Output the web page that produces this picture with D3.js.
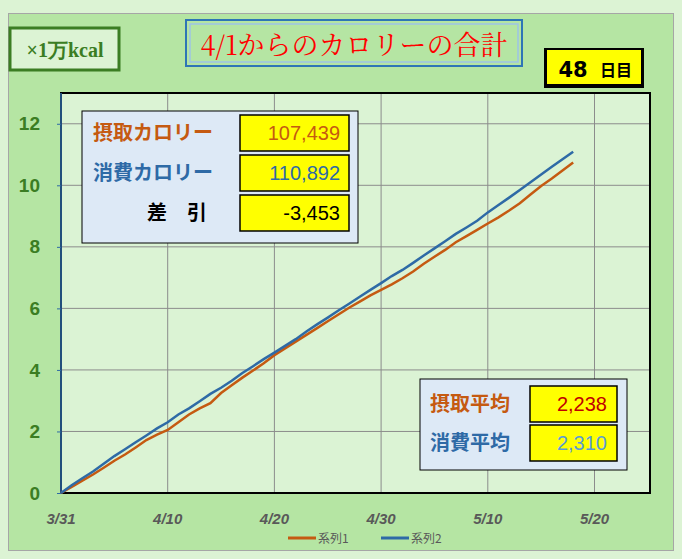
<!DOCTYPE html><html><head><meta charset="utf-8"><script src="https://d3js.org/d3.v7.min.js"></script>
<style>body{margin:0}</style></head><body><svg id="c" width="682" height="559"></svg><script>
const xTickLabels=["3/31","4/10","4/20","4/30","5/10","5/20"];
const yTicks=[0,2,4,6,8,10,12];
const series1=[0,0.2,0.4,0.6,0.82,1.05,1.25,1.48,1.72,1.9,2.05,2.3,2.55,2.75,2.92,3.25,3.5,3.75,3.98,4.22,4.48,4.7,4.92,5.14,5.36,5.58,5.8,6.02,6.22,6.42,6.6,6.78,6.98,7.2,7.45,7.68,7.9,8.15,8.35,8.55,8.76,8.96,9.18,9.42,9.7,9.98,10.22,10.48,10.74];
const series2=[0,0.25,0.48,0.7,0.95,1.2,1.42,1.65,1.87,2.1,2.3,2.55,2.75,2.98,3.22,3.42,3.65,3.9,4.12,4.35,4.56,4.78,5.0,5.25,5.48,5.7,5.93,6.15,6.38,6.6,6.82,7.05,7.25,7.48,7.72,7.95,8.18,8.42,8.63,8.85,9.12,9.36,9.6,9.85,10.1,10.35,10.6,10.85,11.09];
const seriesNames=["系列1","系列2"];
const totalLabels=["摂取カロリー","消費カロリー","差　引"];
const totalValues=["107,439","110,892","-3,453"];
const avgLabels=["摂取平均","消費平均"];
const avgValues=["2,238","2,310"];
const colors=["#c55a11","#2e6aa6"];
const svg=d3.select("#c");
const F="'Noto Sans CJK JP',sans-serif";
svg.append("rect").attr("width",682).attr("height",559).attr("fill","#dcf3d4");
svg.append("rect").attr("x",8.5).attr("y",13.5).attr("width",665).attr("height",537).attr("fill","#b5e5a3").attr("stroke","#a6a6a6");
const x=d3.scaleLinear().domain([0,55.2]).range([61,650]);
const y=d3.scaleLinear().domain([0,13]).range([493,93]);
svg.append("rect").attr("x",61).attr("y",93).attr("width",589).attr("height",400).attr("fill","#dbf3d4");
const g=svg.append("g");
g.selectAll(".gx").data(d3.range(10,60,10)).join("line").attr("x1",d=>x(d)).attr("x2",d=>x(d)).attr("y1",93).attr("y2",493).attr("stroke","#8c8c8c");
g.selectAll(".gy").data(yTicks.slice(1)).join("line").attr("x1",61).attr("x2",650).attr("y1",d=>y(d)).attr("y2",d=>y(d)).attr("stroke","#8c8c8c");
svg.append("rect").attr("x",61).attr("y",93).attr("width",589).attr("height",400).attr("fill","none").attr("stroke","#000").attr("stroke-width",2);
svg.append("line").attr("x1",61).attr("x2",61).attr("y1",93).attr("y2",493).attr("stroke","#2e6aa6").attr("stroke-width",1.5);
const ya=svg.append("g").attr("transform","translate(61,0)").call(d3.axisLeft(y).tickValues(yTicks).tickSize(4).tickFormat(d3.format("d")));
ya.select(".domain").remove();ya.selectAll("line").attr("stroke","#2e6aa6");
ya.selectAll("text").attr("font-family","Liberation Sans,Arial").attr("font-weight","bold").attr("font-size",19).attr("fill","#3b7d23").attr("dx",-14);
svg.selectAll(".xl").data(xTickLabels).join("text").attr("x",(d,i)=>x(i*10)).attr("y",524).attr("text-anchor","middle").attr("font-family","Liberation Sans,Arial").attr("font-weight","bold").attr("font-style","italic").attr("font-size",15).attr("fill","#595959").text(d=>d);
const line=d3.line().x((d,i)=>x(i)).y(d=>y(d));
[series1,series2].forEach((s,k)=>svg.append("path").attr("d",line(s)).attr("fill","none").attr("stroke",colors[k]).attr("stroke-width",2.5));
seriesNames.forEach((n,i)=>{const lx=288+i*93;svg.append("line").attr("x1",lx).attr("x2",lx+28).attr("y1",538).attr("y2",538).attr("stroke",colors[i]).attr("stroke-width",3);
svg.append("text").attr("x",lx+30).attr("y",543).attr("font-family",F).attr("font-size",12).attr("fill","#595959").text(n);});
svg.append("rect").attr("x",10).attr("y",28).attr("width",109).attr("height",42).attr("fill","#dcf3d4").attr("stroke","#3b7d23").attr("stroke-width",3);
svg.append("text").attr("x",65).attr("y",57).attr("text-anchor","middle").attr("font-family","'Liberation Serif',serif").attr("font-weight","bold").attr("font-size",20).attr("fill","#3b7d23").text("×1万kcal");
svg.append("rect").attr("x",186).attr("y",20).attr("width",336).attr("height",46).attr("fill","none").attr("stroke","#2e75b6").attr("stroke-width",2);
svg.append("rect").attr("x",190).attr("y",24).attr("width",328).attr("height",38).attr("fill","#b5e5a3").attr("stroke","#9dc3e6").attr("stroke-width",1.5);
svg.append("text").attr("x",354).attr("y",55).attr("text-anchor","middle").attr("font-family","'Noto Serif CJK JP','Noto Sans CJK JP',serif").attr("font-size",27).attr("fill","#ff0000").text("4/1からのカロリーの合計");
svg.append("rect").attr("x",544).attr("y",48).attr("width",100).attr("height",40).attr("fill","#000");
svg.append("rect").attr("x",547).attr("y",50).attr("width",94).attr("height",34).attr("fill","#ffff00");
svg.append("text").attr("x",573).attr("y",77).attr("text-anchor","middle").attr("font-family","'DejaVu Sans'").attr("font-weight","bold").attr("font-size",21).attr("fill","#000").text("48");
svg.append("text").attr("x",616).attr("y",76).attr("text-anchor","middle").attr("font-family",F).attr("font-weight","bold").attr("font-size",16).attr("fill","#000").text("日目");
// totals box
svg.append("rect").attr("x",82).attr("y",111).attr("width",276).attr("height",132).attr("fill","#dde9f6").attr("stroke","#000");
const tc=["#c55a11","#2e6aa6","#000"], tvc=["#c55a11","#2e6aa6","#000"];
totalLabels.forEach((t,i)=>{const cy=133+i*40;
svg.append("text").attr("x",i<2?93:177).attr("y",cy+7).attr("text-anchor",i<2?"start":"middle").attr("font-family",F).attr("font-weight","bold").attr("font-size",20).attr("fill",tc[i]).text(t);
svg.append("rect").attr("x",240).attr("y",cy-18).attr("width",109).attr("height",36).attr("fill","#ffff00").attr("stroke","#000").attr("stroke-width",1.5);
svg.append("text").attr("x",340).attr("y",cy+7).attr("text-anchor","end").attr("font-family","'Liberation Sans Narrow','Liberation Sans'").attr("font-size",20).attr("fill",tvc[i]).text(totalValues[i]);});
// averages
svg.append("rect").attr("x",420).attr("y",379).attr("width",207).attr("height",91).attr("fill","#dde9f6").attr("stroke","#000");
const ac=["#c55a11","#2e6aa6"], avc=["#c00000","#5b9bd5"];
avgLabels.forEach((t,i)=>{const cy=404+i*39;
svg.append("text").attr("x",430).attr("y",cy+7).attr("font-family",F).attr("font-weight","bold").attr("font-size",20).attr("fill",ac[i]).text(t);
svg.append("rect").attr("x",530).attr("y",cy-18).attr("width",87).attr("height",36).attr("fill","#ffff00").attr("stroke","#000").attr("stroke-width",1.5);
svg.append("text").attr("x",607).attr("y",cy+7).attr("text-anchor","end").attr("font-family","'Liberation Sans Narrow','Liberation Sans'").attr("font-size",20).attr("fill",avc[i]).text(avgValues[i]);});
</script></body></html>
